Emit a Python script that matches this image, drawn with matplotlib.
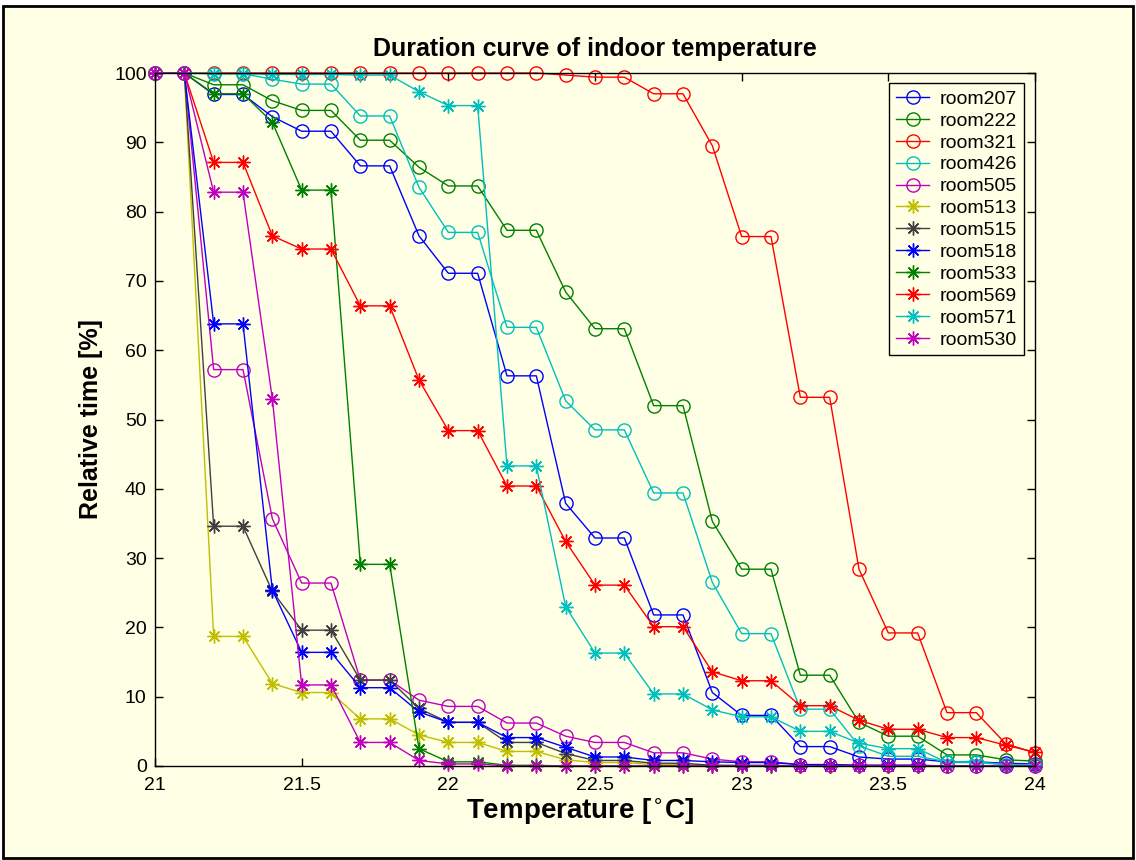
import matplotlib
matplotlib.use("Agg")
import matplotlib.pyplot as plt
from matplotlib.patches import Rectangle
import numpy as np

plt.rcParams['font.family'] = ['Liberation Sans', 'DejaVu Sans']

temps = [21.0, 21.1, 21.2, 21.3, 21.4, 21.5, 21.6, 21.7, 21.8, 21.9, 22.0,
         22.1, 22.2, 22.3, 22.4, 22.5, 22.6, 22.7, 22.8, 22.9, 23.0,
         23.1, 23.2, 23.3, 23.4, 23.5, 23.6, 23.7, 23.8, 23.9, 24.0]

room207 = [100, 100, 96.9, 96.9, 93.7, 91.6, 91.6, 86.6, 86.6, 76.5, 71.1,
           71.1, 56.3, 56.3, 37.9, 32.9, 32.9, 21.8, 21.8, 10.6, 7.3,
           7.3, 2.8, 2.8, 1.3, 1.0, 1.0, 0.6, 0.6, 0.4, 0.3]
room222 = [100, 100, 98.3, 98.3, 96.0, 94.6, 94.6, 90.3, 90.3, 86.4, 83.7,
           83.7, 77.3, 77.3, 68.4, 63.1, 63.1, 52.0, 52.0, 35.3, 28.4,
           28.4, 13.1, 13.1, 6.3, 4.3, 4.3, 1.6, 1.6, 0.9, 0.7]
room321 = [100, 100, 100, 100, 100, 100, 100, 100, 100, 100, 100,
           100, 100, 100, 99.7, 99.4, 99.4, 97.0, 97.0, 89.5, 76.4,
           76.4, 53.2, 53.2, 28.4, 19.2, 19.2, 7.7, 7.7, 3.2, 1.9]
room426 = [100, 100, 99.9, 99.9, 99.1, 98.4, 98.4, 93.8, 93.8, 83.5, 77.0,
           77.0, 63.3, 63.3, 52.7, 48.5, 48.5, 39.4, 39.4, 26.5, 19.1,
           19.1, 8.2, 8.2, 2.9, 1.4, 1.4, 0.6, 0.6, 0.2, 0.2]
room505 = [100, 100, 57.2, 57.2, 35.7, 26.4, 26.4, 12.4, 12.4, 9.5, 8.6,
           8.6, 6.2, 6.2, 4.3, 3.4, 3.4, 1.9, 1.9, 1.0, 0.6,
           0.6, 0.2, 0.2, 0.1, 0.1, 0.1, 0.0, 0.0, 0.0, 0.0]
room513 = [100, 100, 18.7, 18.7, 11.9, 10.6, 10.6, 6.8, 6.8, 4.5, 3.4,
           3.4, 2.1, 2.1, 0.9, 0.5, 0.5, 0.2, 0.2, 0.1, 0.0,
           0.0, 0.0, 0.0, 0.0, 0.0, 0.0, 0.0, 0.0, 0.0, 0.0]
room515 = [100, 100, 34.6, 34.6, 25.2, 19.6, 19.6, 12.4, 12.4, 8.3, 6.3,
           6.3, 3.4, 3.4, 1.8, 0.8, 0.8, 0.4, 0.4, 0.1, 0.1,
           0.1, 0.0, 0.0, 0.0, 0.0, 0.0, 0.0, 0.0, 0.0, 0.0]
room518 = [100, 100, 63.8, 63.8, 25.4, 16.4, 16.4, 11.3, 11.3, 7.8, 6.3,
           6.3, 4.1, 4.1, 2.7, 1.3, 1.3, 0.8, 0.8, 0.6, 0.5,
           0.5, 0.2, 0.2, 0.1, 0.1, 0.1, 0.0, 0.0, 0.0, 0.0]
room533 = [100, 100, 97.0, 97.0, 92.9, 83.1, 83.1, 29.1, 29.1, 2.5, 0.6,
           0.6, 0.1, 0.1, 0.0, 0.0, 0.0, 0.0, 0.0, 0.0, 0.0,
           0.0, 0.0, 0.0, 0.0, 0.0, 0.0, 0.0, 0.0, 0.0, 0.0]
room569 = [100, 100, 87.1, 87.1, 76.5, 74.6, 74.6, 66.4, 66.4, 55.7, 48.4,
           48.4, 40.4, 40.4, 32.4, 26.1, 26.1, 20.1, 20.1, 13.6, 12.3,
           12.3, 8.7, 8.7, 6.6, 5.3, 5.3, 4.1, 4.1, 3.0, 2.0]
room571 = [100, 100, 99.9, 99.9, 99.8, 99.8, 99.8, 99.7, 99.7, 97.3, 95.3,
           95.3, 43.3, 43.3, 23.0, 16.3, 16.3, 10.4, 10.4, 8.1, 7.1,
           7.1, 5.0, 5.0, 3.3, 2.5, 2.5, 0.5, 0.5, 0.2, 0.2]
room530 = [100, 100, 82.8, 82.8, 53.0, 11.7, 11.7, 3.4, 3.4, 0.8, 0.3,
           0.3, 0.0, 0.0, 0.0, 0.0, 0.0, 0.0, 0.0, 0.0, 0.0,
           0.0, 0.0, 0.0, 0.0, 0.0, 0.0, 0.0, 0.0, 0.0, 0.0]

names = ['room207', 'room222', 'room321', 'room426', 'room505', 'room513',
         'room515', 'room518', 'room533', 'room569', 'room571', 'room530']
series = [room207, room222, room321, room426, room505, room513,
          room515, room518, room533, room569, room571, room530]
colors = ['#0000ff', '#008000', '#ff0000', '#00bfbf', '#bf00bf', '#bfbf00',
          '#404040', '#0000ff', '#008000', '#ff0000', '#00bfbf', '#bf00bf']
markers = ['o'] * 5 + [(8, 2, 0)] * 7

bg = '#ffffe5'
fig = plt.figure(figsize=(11.36, 8.6), dpi=100, facecolor='white')
fig.patches.append(Rectangle((3 / 1136, 2 / 860), 1130 / 1136, 852 / 860,
                             transform=fig.transFigure, facecolor=bg,
                             edgecolor='black', linewidth=2.0, zorder=-10))
ax = fig.add_axes([155 / 1136, 1 - 766 / 860, (1035 - 155) / 1136, (766 - 73) / 860])
ax.set_facecolor(bg)

for name, vals, c, m in zip(names, series, colors, markers):
    if m == 'o':
        ax.plot(temps, vals, color=c, marker='o', markersize=9.5,
                markerfacecolor='none', markeredgewidth=1.0, linewidth=1.0,
                label=name, clip_on=False)
    else:
        ax.plot(temps, vals, color=c, marker=m, markersize=10,
                markeredgewidth=1.0, linewidth=1.0, label=name, clip_on=False)

ax.set_xlim(21, 24)
ax.set_ylim(0, 100)
ax.set_xticks([21, 21.5, 22, 22.5, 23, 23.5, 24])
ax.set_xticklabels(['21', '21.5', '22', '22.5', '23', '23.5', '24'])
ax.set_yticks(range(0, 101, 10))
ax.tick_params(direction='in', length=6, width=1, top=True, right=True,
               labelsize=14, pad=6)
ax.tick_params(axis='x', pad=8)
for s in ax.spines.values():
    s.set_linewidth(1.0)

ax.set_title('Duration curve of indoor temperature', fontsize=18,
             fontweight='bold', pad=12)
ax.set_xlabel('Temperature [$^{\\circ}$C]', fontsize=20, fontweight='bold',
              labelpad=2)
ax.xaxis.label.set_x((580 - 155) / 880)
ax.set_ylabel('Relative time [%]', fontsize=18, fontweight='bold', labelpad=8)

leg = ax.legend(loc='upper right', bbox_to_anchor=(0.9875, 0.985), fontsize=14,
                frameon=True, fancybox=False, edgecolor='black',
                facecolor=bg, framealpha=1, handlelength=1.7,
                labelspacing=0.22, borderpad=0.35, handletextpad=0.55,
                borderaxespad=0)
leg.get_frame().set_linewidth(1.0)

fig.savefig('out.png', dpi=100, facecolor=fig.get_facecolor())
